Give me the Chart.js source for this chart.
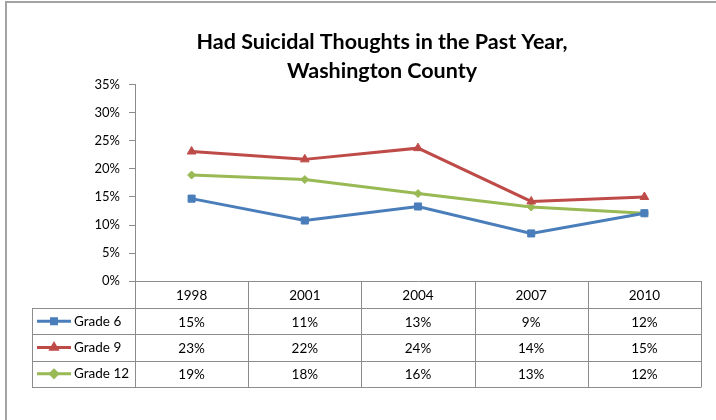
<!DOCTYPE html>
<html>
<head>
<meta charset="utf-8">
<script src="https://cdn.jsdelivr.net/npm/chart.js@4.4.0/dist/chart.umd.min.js"></script>
<style>
  html, body { margin: 0; padding: 0; background: #fff; }
  #wrap { position: relative; width: 716px; height: 420px; overflow: hidden; }
  #frame { position: absolute; left: 5px; top: 1px; width: 780px; height: 500px; border: 2px solid #a3a3a3; box-sizing: border-box; }
  #c { position: absolute; left: 0; top: 0; }
</style>
</head>
<body>
<div id="wrap">
  <div id="frame"></div>
  <canvas id="c" width="716" height="420"></canvas>
</div>
<script>
  var YEARS = ['1998', '2001', '2004', '2007', '2010'];
  var GRADE6 = [14.7, 10.8, 13.3, 8.5, 12.1];
  var GRADE9 = [23.1, 21.7, 23.7, 14.2, 15.0];
  var GRADE12 = [18.9, 18.1, 15.6, 13.2, 12.1];
  var TITLE = ['Had Suicidal Thoughts in the Past Year,', 'Washington County'];

  var FONT = "Lato, 'Open Sans', sans-serif";
  var GRID = '#8c8c8c';

  // data table drawn under the x axis, columns taken from the x scale
  var tablePlugin = {
    id: 'dataTable',
    afterDraw: function (chart) {
      var ctx = chart.ctx;
      var xs = chart.scales.x;
      var top = chart.chartArea.bottom;
      var headH = 27, rowH = 26.3;
      var legLeft = 32;
      var colW = xs.width / YEARS.length;
      var bottom = top + headH + rowH * chart.data.datasets.length;

      ctx.save();
      ctx.strokeStyle = GRID;
      ctx.lineWidth = 1;
      ctx.beginPath();
      for (var i = 0; i <= YEARS.length; i++) {
        var x = Math.round(xs.left + i * colW) + 0.5;
        ctx.moveTo(x, top);
        ctx.lineTo(x, bottom);
      }
      for (var r = 0; r <= chart.data.datasets.length; r++) {
        var y = Math.round(top + headH + r * rowH) + 0.5;
        ctx.moveTo(legLeft, y);
        ctx.lineTo(xs.right + 0.5, y);
      }
      ctx.moveTo(legLeft + 0.5, top + headH);
      ctx.lineTo(legLeft + 0.5, bottom);
      ctx.stroke();

      ctx.fillStyle = '#000';
      ctx.font = '13.5px ' + FONT;
      ctx.textAlign = 'center';
      ctx.textBaseline = 'middle';
      YEARS.forEach(function (yr, i) {
        ctx.fillText(yr, xs.getPixelForValue(i), top + headH / 2 + 1);
      });

      chart.data.datasets.forEach(function (ds, r) {
        var cy = top + headH + r * rowH + rowH / 2;
        // legend key
        ctx.strokeStyle = ds.borderColor;
        ctx.lineWidth = 3;
        ctx.beginPath();
        ctx.moveTo(37, cy);
        ctx.lineTo(71, cy);
        ctx.stroke();
        ctx.fillStyle = ds.borderColor;
        Chart.helpers.drawPoint(ctx, { pointStyle: ds.pointStyle, radius: 3.5, rotation: 0, borderWidth: 1 }, 54, cy);
        ctx.fillStyle = '#000';
        ctx.textAlign = 'left';
        ctx.fillText(ds.label, 74, cy);
        ctx.textAlign = 'center';
        ds.data.forEach(function (v, i) {
          ctx.fillText(Math.round(v) + '%', xs.getPixelForValue(i), cy + 1);
        });
      });
      ctx.restore();
    }
  };

  function series(label, data, color, style, radius) {
    return {
      label: label,
      data: data,
      borderColor: color,
      backgroundColor: color,
      borderWidth: 3,
      pointStyle: style,
      pointRadius: radius,
      pointBackgroundColor: color,
      pointBorderColor: color,
      pointBorderWidth: 1,
      tension: 0,
      fill: false
    };
  }

  new Chart(document.getElementById('c'), {
    type: 'line',
    data: {
      labels: YEARS,
      datasets: [
        series('Grade 6', GRADE6, '#4a7ebb', 'rect', 5),
        series('Grade 9', GRADE9, '#be4b48', 'triangle', 5),
        series('Grade 12', GRADE12, '#98b954', 'rectRot', 4)
      ]
    },
    options: {
      responsive: false,
      animation: false,
      devicePixelRatio: 1,
      layout: { padding: { top: 0, left: 63, right: 15, bottom: 33 } },
      plugins: {
        legend: { display: false },
        tooltip: { enabled: false },
        title: {
          display: true,
          text: TITLE,
          color: '#000',
          font: { family: FONT, size: 21.5, weight: 'bold', lineHeight: 1.32 },
          padding: { top: 28, bottom: 0 }
        }
      },
      scales: {
        x: {
          offset: true,
          grid: { display: false },
          border: { display: true, color: GRID, width: 1 },
          ticks: { display: false },
          afterFit: function (s) { s.height = 27 + 26.3 * 3; }
        },
        y: {
          min: 0,
          max: 35,
          ticks: {
            stepSize: 5,
            color: '#000',
            padding: 9,
            font: { family: FONT, size: 13 },
            callback: function (v) { return v + '%'; }
          },
          grid: { drawOnChartArea: false, tickLength: 6, color: GRID },
          border: { color: GRID, width: 1 },
          afterFit: function (s) { s.width = 72; }
        }
      }
    },
    plugins: [tablePlugin]
  });
</script>
</body>
</html>
